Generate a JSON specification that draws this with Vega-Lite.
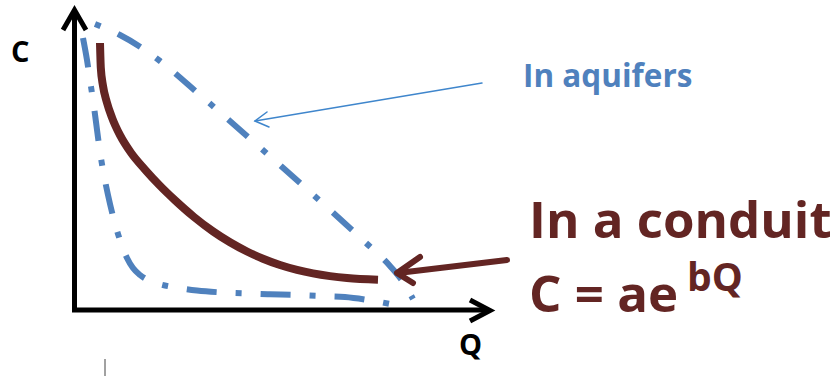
{
  "$schema": "https://vega.github.io/schema/vega-lite/v6.json",
  "width": 838,
  "height": 376,
  "autosize": {"type": "none"},
  "padding": 0,
  "background": "white",
  "config": {"view": {"stroke": null}},
  "datasets": {
    "axes": [
      {"seg": "yaxis", "ord": 1, "x": 74.5, "y": 312},
      {"seg": "yaxis", "ord": 2, "x": 74.5, "y": 11},
      {"seg": "yhead", "ord": 1, "x": 63, "y": 30},
      {"seg": "yhead", "ord": 2, "x": 74.5, "y": 10},
      {"seg": "yhead", "ord": 3, "x": 86, "y": 30},
      {"seg": "xaxis", "ord": 1, "x": 72, "y": 310},
      {"seg": "xaxis", "ord": 2, "x": 489, "y": 310},
      {"seg": "xhead", "ord": 1, "x": 470, "y": 300},
      {"seg": "xhead", "ord": 2, "x": 490, "y": 310.5},
      {"seg": "xhead", "ord": 3, "x": 470, "y": 321}
    ],
    "conduit": [
      {"ord": 1, "x": 100, "y": 43},
      {"ord": 2, "x": 100.8, "y": 67.8},
      {"ord": 3, "x": 103, "y": 85.8},
      {"ord": 4, "x": 106.7, "y": 101.7},
      {"ord": 5, "x": 112, "y": 117.6},
      {"ord": 6, "x": 120, "y": 135.2},
      {"ord": 7, "x": 131, "y": 152.8},
      {"ord": 8, "x": 145, "y": 169.6},
      {"ord": 9, "x": 160, "y": 185.8},
      {"ord": 10, "x": 175, "y": 200.3},
      {"ord": 11, "x": 194, "y": 217},
      {"ord": 12, "x": 213, "y": 231.4},
      {"ord": 13, "x": 230, "y": 242.3},
      {"ord": 14, "x": 247, "y": 251.5},
      {"ord": 15, "x": 263, "y": 258.7},
      {"ord": 16, "x": 280, "y": 265},
      {"ord": 17, "x": 297, "y": 269.9},
      {"ord": 18, "x": 313, "y": 273.4},
      {"ord": 19, "x": 330, "y": 276.1},
      {"ord": 20, "x": 347, "y": 278},
      {"ord": 21, "x": 378, "y": 279.7}
    ],
    "upper": [
      {"ord": 1, "x": 95, "y": 24},
      {"ord": 2, "x": 120, "y": 35},
      {"ord": 3, "x": 142, "y": 48},
      {"ord": 4, "x": 160, "y": 61},
      {"ord": 5, "x": 200, "y": 95},
      {"ord": 6, "x": 255, "y": 143},
      {"ord": 7, "x": 310, "y": 192},
      {"ord": 8, "x": 365, "y": 242},
      {"ord": 9, "x": 390, "y": 266},
      {"ord": 10, "x": 403, "y": 282},
      {"ord": 11, "x": 413, "y": 299}
    ],
    "lower": [
      {"ord": 1, "x": 83, "y": 38},
      {"ord": 2, "x": 87, "y": 60},
      {"ord": 3, "x": 90, "y": 80},
      {"ord": 4, "x": 93, "y": 100},
      {"ord": 5, "x": 96, "y": 122},
      {"ord": 6, "x": 99, "y": 145},
      {"ord": 7, "x": 103, "y": 170},
      {"ord": 8, "x": 108, "y": 195},
      {"ord": 9, "x": 114, "y": 220},
      {"ord": 10, "x": 121, "y": 243},
      {"ord": 11, "x": 127, "y": 258},
      {"ord": 12, "x": 133, "y": 268},
      {"ord": 13, "x": 140, "y": 275},
      {"ord": 14, "x": 150, "y": 281},
      {"ord": 15, "x": 161, "y": 284.5},
      {"ord": 16, "x": 173, "y": 287},
      {"ord": 17, "x": 197, "y": 290.5},
      {"ord": 18, "x": 223, "y": 292.5},
      {"ord": 19, "x": 247, "y": 293.5},
      {"ord": 20, "x": 270, "y": 294.3},
      {"ord": 21, "x": 295, "y": 295},
      {"ord": 22, "x": 320, "y": 296},
      {"ord": 23, "x": 345, "y": 297},
      {"ord": 24, "x": 368, "y": 300},
      {"ord": 25, "x": 395, "y": 305}
    ],
    "thinArrow": [
      {"seg": "shaft", "ord": 1, "x": 482, "y": 83},
      {"seg": "shaft", "ord": 2, "x": 255, "y": 121},
      {"seg": "head", "ord": 1, "x": 267, "y": 112},
      {"seg": "head", "ord": 2, "x": 255, "y": 121},
      {"seg": "head", "ord": 3, "x": 269, "y": 127}
    ],
    "brownArrow": [
      {"seg": "shaft", "ord": 1, "x": 507, "y": 260},
      {"seg": "shaft", "ord": 2, "x": 398, "y": 273},
      {"seg": "head", "ord": 1, "x": 420, "y": 257},
      {"seg": "head", "ord": 2, "x": 397, "y": 273},
      {"seg": "head", "ord": 3, "x": 413, "y": 283}
    ],
    "tick": [
      {"seg": "t", "ord": 1, "x": 105, "y": 359},
      {"seg": "t", "ord": 2, "x": 105, "y": 376}
    ]
  },
  "layer": [
    {
      "data": {"name": "axes"},
      "mark": {"type": "line", "color": "black", "strokeWidth": 5, "strokeCap": "butt", "strokeJoin": "miter"},
      "encoding": {
        "x": {"field": "x", "type": "quantitative", "scale": {"domain": [0, 838], "nice": false, "zero": false}, "axis": null},
        "y": {"field": "y", "type": "quantitative", "scale": {"domain": [0, 376], "nice": false, "zero": false, "reverse": true}, "axis": null},
        "detail": {"field": "seg"},
        "order": {"field": "ord"}
      }
    },
    {
      "data": {"name": "upper"},
      "mark": {"type": "line", "color": "#4F81BD", "strokeWidth": 6, "strokeCap": "butt", "strokeDash": [26, 19, 6, 19], "strokeDashOffset": 45, "interpolate": "monotone"},
      "encoding": {
        "x": {"field": "x", "type": "quantitative", "axis": null},
        "y": {"field": "y", "type": "quantitative", "axis": null},
        "order": {"field": "ord"}
      }
    },
    {
      "data": {"name": "lower"},
      "mark": {"type": "line", "color": "#4F81BD", "strokeWidth": 6, "strokeCap": "butt", "strokeDash": [30, 19, 6, 19], "interpolate": "monotone"},
      "encoding": {
        "x": {"field": "x", "type": "quantitative", "axis": null},
        "y": {"field": "y", "type": "quantitative", "axis": null},
        "order": {"field": "ord"}
      }
    },
    {
      "data": {"name": "conduit"},
      "mark": {"type": "line", "color": "#632523", "strokeWidth": 8, "strokeCap": "butt", "interpolate": "monotone"},
      "encoding": {
        "x": {"field": "x", "type": "quantitative", "axis": null},
        "y": {"field": "y", "type": "quantitative", "axis": null},
        "order": {"field": "ord"}
      }
    },
    {
      "data": {"name": "thinArrow"},
      "mark": {"type": "line", "color": "#3F86CC", "strokeWidth": 1.5, "strokeCap": "round"},
      "encoding": {
        "x": {"field": "x", "type": "quantitative", "axis": null},
        "y": {"field": "y", "type": "quantitative", "axis": null},
        "detail": {"field": "seg"},
        "order": {"field": "ord"}
      }
    },
    {
      "data": {"name": "brownArrow"},
      "mark": {"type": "line", "color": "#632523", "strokeWidth": 6, "strokeCap": "round", "strokeJoin": "round"},
      "encoding": {
        "x": {"field": "x", "type": "quantitative", "axis": null},
        "y": {"field": "y", "type": "quantitative", "axis": null},
        "detail": {"field": "seg"},
        "order": {"field": "ord"}
      }
    },
    {
      "data": {"name": "tick"},
      "mark": {"type": "line", "color": "#444444", "strokeWidth": 1},
      "encoding": {
        "x": {"field": "x", "type": "quantitative", "axis": null},
        "y": {"field": "y", "type": "quantitative", "axis": null},
        "order": {"field": "ord"}
      }
    },
    {
      "data": {"values": [{"x": 11, "y": 62, "label": "C"}, {"x": 459, "y": 355, "label": "Q"}]},
      "mark": {"type": "text", "font": "Open Sans", "fontWeight": "bold", "fontSize": 29, "color": "black", "align": "left", "baseline": "alphabetic"},
      "encoding": {
        "x": {"field": "x", "type": "quantitative", "axis": null},
        "y": {"field": "y", "type": "quantitative", "axis": null},
        "text": {"field": "label"}
      }
    },
    {
      "data": {"values": [{"x": 523, "y": 87, "label": "In aquifers"}]},
      "mark": {"type": "text", "font": "Open Sans", "fontWeight": "bold", "fontSize": 31.5, "color": "#4F81BD", "align": "left", "baseline": "alphabetic"},
      "encoding": {
        "x": {"field": "x", "type": "quantitative", "axis": null},
        "y": {"field": "y", "type": "quantitative", "axis": null},
        "text": {"field": "label"}
      }
    },
    {
      "data": {"values": [{"x": 529, "y": 238, "label": "In a conduit"}, {"x": 529, "y": 312, "label": "C = ae"}]},
      "mark": {"type": "text", "font": "Open Sans", "fontWeight": "bold", "fontSize": 51, "color": "#632523", "align": "left", "baseline": "alphabetic"},
      "encoding": {
        "x": {"field": "x", "type": "quantitative", "axis": null},
        "y": {"field": "y", "type": "quantitative", "axis": null},
        "text": {"field": "label"}
      }
    },
    {
      "data": {"values": [{"x": 687, "y": 291, "label": "bQ"}]},
      "mark": {"type": "text", "font": "Open Sans", "fontWeight": "bold", "fontSize": 39, "color": "#632523", "align": "left", "baseline": "alphabetic"},
      "encoding": {
        "x": {"field": "x", "type": "quantitative", "axis": null},
        "y": {"field": "y", "type": "quantitative", "axis": null},
        "text": {"field": "label"}
      }
    }
  ]
}
